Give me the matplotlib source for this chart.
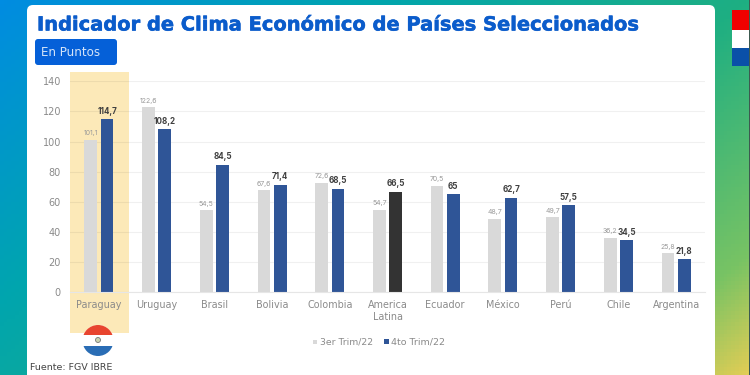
import numpy as np
import matplotlib
matplotlib.use('Agg')
import matplotlib.pyplot as plt
import matplotlib.patheffects as pe
from matplotlib.patches import FancyBboxPatch, Rectangle, Circle, Ellipse

plt.rcParams['font.family'] = ['DejaVu Sans']

paises = ['Paraguay', 'Uruguay', 'Brasil', 'Bolivia', 'Colombia', 'America\nLatina',
          'Ecuador', 'México', 'Perú', 'Chile', 'Argentina']
trim3 = [101.1, 122.6, 54.5, 67.6, 72.6, 54.7, 70.5, 48.7, 49.7, 36.2, 25.8]
trim4 = [114.7, 108.2, 84.5, 71.4, 68.5, 66.5, 65, 62.7, 57.5, 34.5, 21.8]
etiq3 = ['101,1', '122,6', '54,5', '67,6', '72,6', '54,7', '70,5', '48,7', '49,7', '36,2', '25,8']
etiq4 = ['114,7', '108,2', '84,5', '71,4', '68,5', '66,5', '65', '62,7', '57,5', '34,5', '21,8']
yticks = [0, 20, 40, 60, 80, 100, 120, 140]

W, H = 750, 375
GRIS = '#d9d9d9'
AZUL = '#2f5597'
OSCURO = '#333333'
TXT = '#8a8a8a'

fig = plt.figure(figsize=(7.5, 3.75), dpi=100)

# fondo en pixeles
bg = fig.add_axes([0, 0, 1, 1], zorder=0)
bg.set_xlim(0, W)
bg.set_ylim(H, 0)
bg.axis('off')

xx, yy = np.meshgrid(np.linspace(0, 1, 200), np.linspace(0, 1, 100))
t = np.clip(0.62 * xx + 0.38 * yy, 0, 1)
stops = np.array([[0, 140, 225], [0, 165, 175], [30, 175, 130], [120, 195, 100], [225, 205, 85]]) / 255
pos = [0, 0.3, 0.62, 0.88, 1]
rgb = np.dstack([np.interp(t, pos, stops[:, i]) for i in range(3)])
bg.imshow(rgb, extent=[0, W, H, 0], aspect='auto', zorder=0)

bg.add_patch(FancyBboxPatch((27, 5), 688, 400, boxstyle='round,pad=0,rounding_size=6',
                            fc='white', ec='none', zorder=1))

# bandera derecha
bg.add_patch(Rectangle((732, 10), 18, 19.5, fc='#f00000', ec='none', zorder=2))
bg.add_patch(Rectangle((732, 29.5), 18, 18, fc='white', ec='none', zorder=2))
bg.add_patch(Rectangle((732, 47.5), 18, 18, fc='#0a50a8', ec='none', zorder=2))
bg.add_patch(Rectangle((748.5, 0), 1.5, 375, fc='#3c5a50', ec='none', zorder=3))

# titulo y etiqueta
bg.text(37, 25, 'Indicador de Clima Económico de Países Seleccionados', fontsize=14,
        fontweight='bold', color='#0b5ccb', va='center', ha='left', zorder=4,
        path_effects=[pe.withStroke(linewidth=0.4, foreground='#0b5ccb')])
bg.add_patch(FancyBboxPatch((35, 39), 82, 26, boxstyle='round,pad=0,rounding_size=3',
                            fc='#0560d8', ec='none', zorder=4))
bg.text(41, 52, 'En Puntos', fontsize=8.6, color='#d5e4f8', va='center', ha='left', zorder=5)

# banda Paraguay
bg.add_patch(Rectangle((70, 72), 59, 261, fc='#fce9b8', ec='none', zorder=2))

# bandera circular
bg.add_patch(Circle((98, 340.5), 15.5, fc='white', ec='none', zorder=4))
c1 = Circle((98, 340.5), 15.5, transform=bg.transData)
r1 = bg.add_patch(Rectangle((80, 324), 36, 11, fc='#e8452f', ec='none', zorder=5))
r1.set_clip_path(c1)
r2 = bg.add_patch(Rectangle((80, 346), 36, 11, fc='#2a6db5', ec='none', zorder=5))
r2.set_clip_path(c1)
bg.add_patch(Ellipse((98, 340), 5, 5, fc='#c9d4b0', ec='#777777', lw=0.6, zorder=6))

bg.text(30.5, 368, 'Fuente: FGV IBRE', fontsize=6.8, color='#444444', va='center', ha='left', zorder=4)

# grafico
ax = fig.add_axes([70 / W, 1 - 292 / H, 635 / W, (292 - 81.3) / H], zorder=2)
ax.patch.set_alpha(0)
x = np.arange(len(paises))
ax.set_xlim(-0.5, 10.5)
ax.set_ylim(0, 140)
ax.set_yticks(yticks)
ax.set_xticks(x)
ax.set_xticklabels(paises, fontsize=6.9, color=TXT, linespacing=1.2)
ax.tick_params(axis='y', length=0, labelsize=7, labelcolor=TXT, pad=6.5)
ax.tick_params(axis='x', length=0, pad=6)
ax.grid(axis='y', color='black', alpha=0.06, lw=0.8)
ax.set_axisbelow(True)
for s in ['top', 'right', 'left']:
    ax.spines[s].set_visible(False)
ax.spines['bottom'].set_color('#e6e6e6')

bw = 0.22
off = 0.141
colores4 = [OSCURO if p.startswith('America') else AZUL for p in paises]
ax.bar(x - off, trim3, bw, color=GRIS, label='3er Trim/22')
ax.bar(x + off, trim4, bw, color=colores4, label='4to Trim/22')

for i in x:
    ax.annotate(etiq3[i], (i - off, trim3[i]), xytext=(0, 2.5), textcoords='offset points',
                ha='center', va='bottom', fontsize=5, color='#9a9a9a', family='Inter')
    ax.annotate(etiq4[i], (i + off, trim4[i]), xytext=(0, 2.5), textcoords='offset points',
                ha='center', va='bottom', fontsize=5.8, fontweight='bold', color='#404040', family='Inter')

# leyenda
bg.add_patch(Rectangle((313, 339.5), 4, 4, fc=GRIS, ec='none', zorder=4))
bg.text(320, 342, '3er Trim/22', fontsize=6.7, color=TXT, va='center', ha='left', zorder=4)
bg.add_patch(Rectangle((384, 339), 5, 5, fc=AZUL, ec='none', zorder=4))
bg.text(391, 342, '4to Trim/22', fontsize=6.8, color=TXT, va='center', ha='left', zorder=4)

fig.savefig('out.png', dpi=100)
